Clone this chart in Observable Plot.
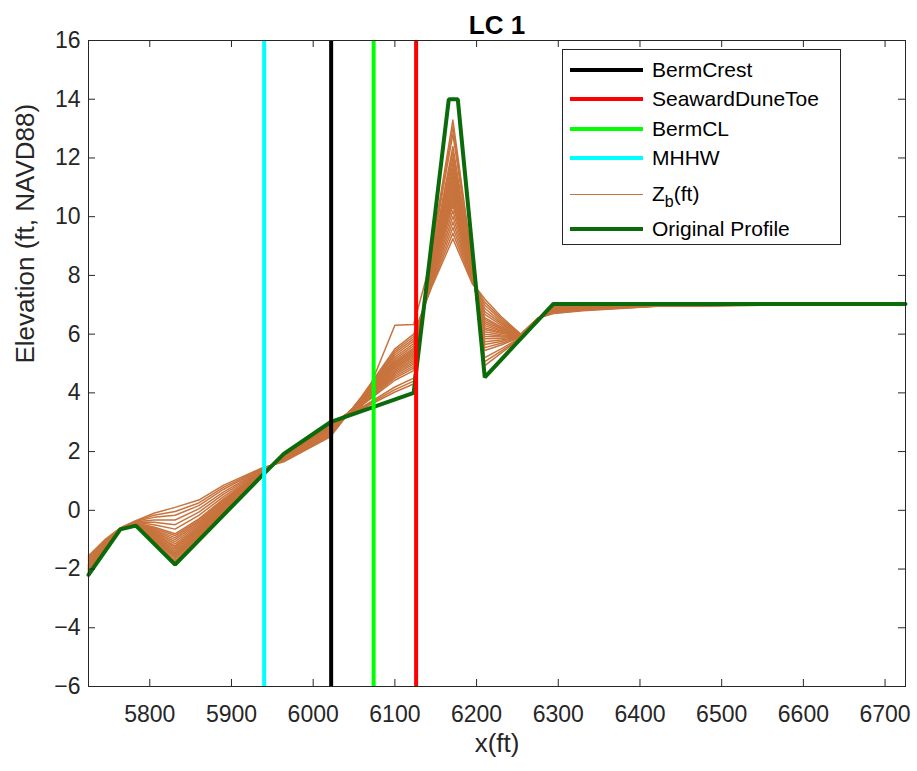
<!DOCTYPE html>
<html>
<head>
<meta charset="utf-8">
<script src="https://cdn.jsdelivr.net/npm/d3@7"></script>
<script src="https://cdn.jsdelivr.net/npm/@observablehq/plot@0.6"></script>
<style>
  body { margin: 0; background: #fff; }
  #wrap { position: relative; width: 917px; height: 771px; font-family: "Liberation Sans", Arial, sans-serif; }
  #wrap svg { position: absolute; left: 0; top: 0; }
  #legend { position: absolute; left: 562px; top: 49px; width: 277px; height: 194px; border: 1px solid #262626; background: #fff; }
  .item { position: absolute; left: 0; height: 0; }
  .item .sw { position: absolute; left: 7px; width: 73px; }
  .item .lb { position: absolute; left: 89px; top: -12px; font-size: 21px; line-height: 24px; color: #000; white-space: nowrap; }
  .item .lb sub { font-size: 16px; vertical-align: -6px; line-height: 0; }
</style>
</head>
<body>
<div id="wrap"></div>
<script>
// ---------- data ----------
const titleText = "LC 1";
const xLabel = "x(ft)";
const yLabel = "Elevation (ft, NAVD88)";
const xTicks = [5800, 5900, 6000, 6100, 6200, 6300, 6400, 6500, 6600, 6700];
const yTicks = [-6, -4, -2, 0, 2, 4, 6, 8, 10, 12, 14, 16];

// Original profile
const origX = [5725, 5764, 5783, 5831, 5938, 5964, 6021, 6123, 6166, 6177, 6210, 6294, 6725];
const origZ = [-2.2, -0.65, -0.52, -1.85, 1.2, 1.92, 3.0, 4.0, 14.0, 14.0, 4.53, 7.03, 7.03];

// Reference lines
const markerNames = ["BermCrest", "SeawardDuneToe", "BermCL", "MHHW"];
const markerX = [6022, 6126, 6074, 5940];
const markerColors = ["#000000", "#ff0000", "#00ff00", "#00ffff"];

// Zb(ft) profiles (x stations shared)
const xNodes = [5725, 5745, 5764, 5783, 5805, 5831, 5860, 5890, 5938, 5964, 6021, 6060, 6100, 6123, 6145, 6171, 6195, 6203, 6210, 6230, 6254, 6275, 6294, 6330, 6420, 6725];
const zb01 = [-2.18,-1.39,-0.65,-0.51,-1.10,-1.79,-0.99,-0.15,1.21,1.91,2.99,3.46,4.03,4.30,8.88,13.29,8.40,6.40,4.93,5.35,5.86,6.48,6.98,7.00,7.02,7.03];
const zb02 = [-2.17,-1.38,-0.65,-0.51,-1.08,-1.75,-0.96,-0.13,1.21,1.90,2.98,3.48,4.11,4.40,8.80,13.05,8.36,6.45,5.06,5.42,5.87,6.48,6.96,6.98,7.01,7.03];
const zb03 = [-2.15,-1.37,-0.65,-0.51,-1.06,-1.71,-0.93,-0.11,1.22,1.90,2.97,3.51,4.20,4.50,8.73,12.81,8.33,6.50,5.20,5.50,5.88,6.49,6.95,6.97,7.01,7.03];
const zb04 = [-2.13,-1.36,-0.64,-0.50,-1.02,-1.64,-0.88,-0.07,1.23,1.89,2.95,3.56,6.30,6.33,8.59,12.39,8.27,6.55,5.44,5.63,5.89,6.50,6.92,6.95,7.00,7.03];
const zb05 = [-2.11,-1.35,-0.64,-0.49,-0.99,-1.59,-0.84,-0.04,1.23,1.88,2.93,3.58,4.43,4.76,8.53,12.20,8.24,6.60,5.54,5.69,5.90,6.50,6.90,6.94,7.00,7.03];
const zb06 = [-2.10,-1.34,-0.64,-0.49,-0.97,-1.54,-0.81,-0.02,1.24,1.88,2.92,3.60,4.50,4.84,8.47,12.01,8.21,6.64,5.65,5.75,5.91,6.50,6.89,6.93,7.00,7.03];
const zb07 = [-2.08,-1.33,-0.64,-0.48,-0.94,-1.49,-0.78,0.01,1.24,1.87,2.91,3.62,4.56,4.91,8.42,11.84,8.18,6.68,5.74,5.80,5.91,6.50,6.88,6.92,6.99,7.03];
const zb08 = [-2.06,-1.32,-0.64,-0.48,-0.91,-1.44,-0.74,0.04,1.25,1.86,2.90,3.64,4.62,4.98,8.37,11.67,8.16,6.72,5.84,5.85,5.92,6.51,6.87,6.92,6.99,7.03];
const zb09 = [-2.04,-1.30,-0.64,-0.47,-0.88,-1.38,-0.70,0.07,1.26,1.85,2.88,3.65,4.67,5.04,8.32,11.53,8.13,6.76,5.92,5.90,5.92,6.51,6.86,6.91,6.99,7.03];
const zb10 = [-2.02,-1.29,-0.64,-0.47,-0.85,-1.32,-0.66,0.10,1.27,1.85,2.87,3.67,4.72,5.10,8.28,11.39,8.11,6.80,6.00,5.94,5.93,6.51,6.85,6.90,6.99,7.03];
const zb11 = [-2.00,-1.28,-0.63,-0.46,-0.82,-1.26,-0.62,0.13,1.27,1.84,2.85,3.68,4.77,5.16,8.23,11.24,8.08,6.84,6.08,5.98,5.93,6.51,6.84,6.89,6.98,7.03];
const zb12 = [-1.99,-1.27,-0.63,-0.46,-0.79,-1.21,-0.58,0.16,1.28,1.83,2.84,3.70,4.83,5.22,8.19,11.10,8.06,6.88,6.16,6.03,5.94,6.52,6.83,6.89,6.98,7.03];
const zb13 = [-1.96,-1.25,-0.63,-0.45,-0.75,-1.14,-0.53,0.19,1.29,1.82,2.82,3.71,4.87,5.27,8.15,10.98,8.04,6.92,6.22,6.06,5.94,6.52,6.82,6.88,6.98,7.03];
const zb14 = [-1.94,-1.24,-0.63,-0.45,-0.72,-1.07,-0.48,0.23,1.30,1.81,2.80,3.72,4.91,5.32,8.11,10.87,8.02,6.96,6.29,6.10,5.95,6.52,6.81,6.88,6.98,7.03];
const zb15 = [-1.91,-1.22,-0.63,-0.44,-0.68,-1.00,-0.43,0.26,1.31,1.80,2.78,3.74,4.95,5.37,8.07,10.75,8.00,7.00,6.36,6.13,5.95,6.52,6.80,6.87,6.97,7.03];
const zb16 = [-1.89,-1.21,-0.63,-0.44,-0.65,-0.93,-0.38,0.30,1.32,1.79,2.77,3.75,5.00,5.42,8.04,10.63,7.98,7.04,6.43,6.17,5.95,6.53,6.80,6.87,6.97,7.03];
const zb17 = [-1.87,-1.20,-0.62,-0.43,-0.61,-0.86,-0.33,0.34,1.33,1.78,2.75,3.76,5.04,5.47,8.00,10.51,7.96,7.08,6.50,6.21,5.95,6.53,6.79,6.86,6.97,7.03];
const zb18 = [-1.85,-1.18,-0.62,-0.43,-0.57,-0.80,-0.29,0.38,1.34,1.77,2.73,3.78,5.09,5.52,7.96,10.39,7.94,7.12,6.56,6.25,5.96,6.53,6.78,6.86,6.97,7.03];
const zb19 = [-1.80,-1.15,-0.62,-0.41,-0.49,-0.64,-0.17,0.46,1.36,1.75,2.69,3.80,5.15,5.60,7.90,10.20,7.90,7.18,6.67,6.31,5.97,6.53,6.77,6.85,6.97,7.03];
const zb20 = [-1.75,-1.12,-0.62,-0.40,-0.41,-0.49,-0.06,0.54,1.38,1.73,2.65,3.82,5.22,5.68,7.84,10.01,7.86,7.24,6.77,6.37,5.97,6.54,6.75,6.84,6.96,7.03];
const zb21 = [-1.69,-1.09,-0.61,-0.39,-0.33,-0.33,0.05,0.62,1.40,1.71,2.61,3.84,5.29,5.76,7.78,9.82,7.82,7.30,6.88,6.42,5.98,6.54,6.74,6.83,6.96,7.03];
const zb22 = [-1.64,-1.06,-0.61,-0.37,-0.24,-0.17,0.16,0.71,1.42,1.69,2.57,3.86,5.36,5.84,7.72,9.63,7.78,7.35,6.99,6.48,5.99,6.54,6.73,6.82,6.96,7.03];
const zb23 = [-1.60,-1.03,-0.60,-0.36,-0.17,-0.04,0.25,0.78,1.43,1.67,2.54,3.88,5.43,5.92,7.66,9.44,7.74,7.40,7.09,6.54,5.99,6.55,6.71,6.81,6.95,7.03];
const zb24 = [-1.55,-1.00,-0.60,-0.35,-0.10,0.10,0.35,0.85,1.45,1.65,2.50,3.90,5.50,6.00,7.60,9.25,7.70,7.45,7.20,6.60,6.00,6.55,6.70,6.80,6.95,7.03];

const zbColor = "#c8733d";
const origColor = "#0b6b0b";
const axisColor = "#262626";

// Legend
const legendHtml = ["BermCrest", "SeawardDuneToe", "BermCL", "MHHW", "Z<sub>b</sub>(ft)", "Original Profile"];
const legendColors = ["#000000", "#ff0000", "#00ff00", "#00ffff", zbColor, origColor];
const legendWidths = [4, 4, 4, 4, 1, 4];
const legendY = [20, 49, 79, 108, 144, 179];

// ---------- build ----------
const W = 917, H = 771, ML = 88, MR = 12, MT = 40, MB = 85;
const frameW = W - ML - MR, frameH = H - MT - MB, tickLen = 7;

const profiles = [zb01, zb02, zb03, zb04, zb05, zb06, zb07, zb08, zb09, zb10, zb11, zb12,
                  zb13, zb14, zb15, zb16, zb17, zb18, zb19, zb20, zb21, zb22, zb23, zb24];
const zbRows = profiles.flatMap((p, i) => p.map((z, j) => ({x: xNodes[j], z, id: i})));
const origRows = origX.map((x, i) => ({x, z: origZ[i]}));

const chart = Plot.plot({
  width: W,
  height: H,
  marginLeft: ML,
  marginRight: MR,
  marginTop: MT,
  marginBottom: MB,
  style: {fontFamily: "Liberation Sans, Arial, sans-serif", color: axisColor, background: "#fff", overflow: "visible"},
  x: {domain: [5725, 6725]},
  y: {domain: [-6, 16]},
  marks: [
    Plot.line(zbRows, {x: "x", y: "z", z: "id", stroke: zbColor, strokeWidth: 1.5}),
    Plot.line(origRows, {x: "x", y: "z", stroke: origColor, strokeWidth: 4, strokeLinejoin: "miter"}),
    ...markerX.map((mx, i) => Plot.ruleX([mx], {stroke: markerColors[i], strokeWidth: 4})),
    Plot.frame({stroke: axisColor}),
    // inward ticks on all four sides
    Plot.ruleX(xTicks, {x: d => d, insetTop: frameH - tickLen, stroke: axisColor}),
    Plot.ruleX(xTicks, {x: d => d, insetBottom: frameH - tickLen, stroke: axisColor}),
    Plot.ruleY(yTicks, {y: d => d, insetRight: frameW - tickLen, stroke: axisColor}),
    Plot.ruleY(yTicks, {y: d => d, insetLeft: frameW - tickLen, stroke: axisColor}),
    Plot.axisX({ticks: xTicks, tickSize: 0, tickPadding: 19, fontSize: 23, label: null, tickFormat: "d"}),
    Plot.axisY({ticks: yTicks, tickSize: 0, tickPadding: 8, fontSize: 23, label: null, tickFormat: "d"}),
    Plot.text([titleText], {text: d => d, frameAnchor: "top", dy: -25, fontSize: 26, fontWeight: "bold", fill: "#000"}),
    Plot.text([xLabel], {text: d => d, frameAnchor: "bottom", dy: 65, fontSize: 26, fill: axisColor}),
    Plot.text([yLabel], {text: d => d, frameAnchor: "left", dx: -63, rotate: -90, fontSize: 26, fill: axisColor})
  ]
});

const wrap = document.getElementById("wrap");
wrap.appendChild(chart);

const legend = document.createElement("div");
legend.id = "legend";
legendHtml.forEach((h, i) => {
  const item = document.createElement("div");
  item.className = "item";
  item.style.top = legendY[i] + "px";
  const sw = document.createElement("div");
  sw.className = "sw";
  sw.style.height = legendWidths[i] + "px";
  sw.style.top = (-legendWidths[i] / 2) + "px";
  sw.style.background = legendColors[i];
  const lb = document.createElement("div");
  lb.className = "lb";
  lb.innerHTML = h;
  item.appendChild(sw);
  item.appendChild(lb);
  legend.appendChild(item);
});
wrap.appendChild(legend);
</script>
</body>
</html>
